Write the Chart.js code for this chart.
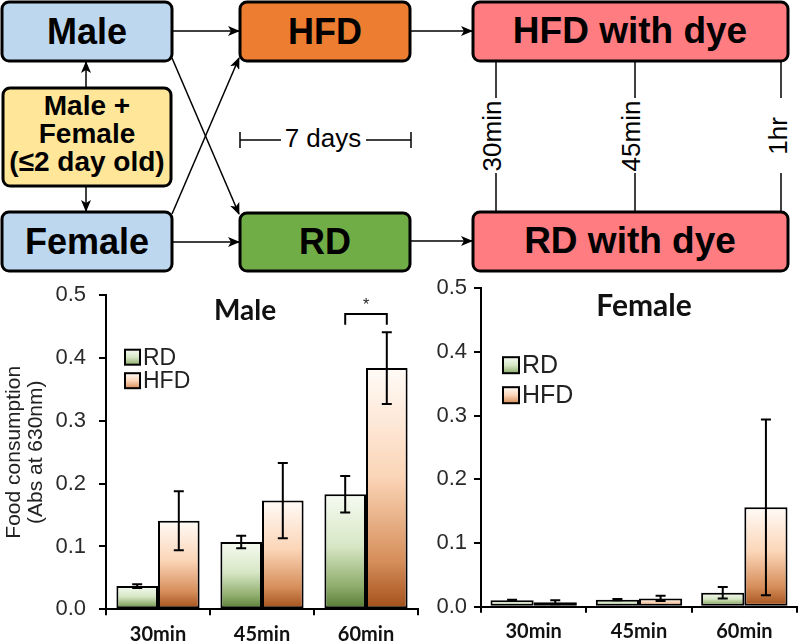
<!DOCTYPE html>
<html>
<head>
<meta charset="utf-8">
<script src="https://cdn.jsdelivr.net/npm/chart.js@4/dist/chart.umd.min.js"></script>
<style>
  body { margin: 0; background: #fff; }
  #wrap { position: relative; width: 800px; height: 644px; overflow: hidden; font-family: "Liberation Sans", Arial, sans-serif; }
  #flow { position: absolute; left: 0; top: 0; }
  /* canvases start a little higher: the tick label padding sits above the plot area */
  #maleBox { position: absolute; left: 0; top: 269px; width: 420px; height: 375px; }
  #femaleBox { position: absolute; left: 420px; top: 268px; width: 380px; height: 376px; }
  .bx { stroke: #000; stroke-width: 3; }
  .big { font-weight: bold; font-size: 36px; text-anchor: middle; }
  .dye { font-weight: bold; font-size: 37px; text-anchor: middle; }
  .mid { font-weight: bold; font-size: 28px; text-anchor: middle; }
  .thin { font-size: 26px; text-anchor: middle; }
  .ln { stroke: #000; stroke-width: 1.5; fill: none; }
</style>
</head>
<body>
<div id="wrap">
<svg id="flow" width="800" height="280" font-family="Liberation Sans, Arial, sans-serif">
  <defs>
    <marker id="ah" markerWidth="12" markerHeight="10" refX="11" refY="5" orient="auto" markerUnits="userSpaceOnUse">
      <path d="M0,0 L12,5 L0,10 L3,5 z" fill="#000"/>
    </marker>
  </defs>
  <!-- arrows -->
  <line class="ln" x1="172" y1="31" x2="239" y2="31" marker-end="url(#ah)"/>
  <line class="ln" x1="172" y1="58" x2="239" y2="214" marker-end="url(#ah)"/>
  <line class="ln" x1="172" y1="214" x2="239" y2="58" marker-end="url(#ah)"/>
  <line class="ln" x1="172" y1="242" x2="239" y2="242" marker-end="url(#ah)"/>
  <line class="ln" x1="86" y1="88" x2="86" y2="62" marker-end="url(#ah)"/>
  <line class="ln" x1="86" y1="186" x2="86" y2="211" marker-end="url(#ah)"/>
  <line class="ln" x1="410" y1="31" x2="472" y2="31" marker-end="url(#ah)"/>
  <line class="ln" x1="410" y1="241" x2="472" y2="241" marker-end="url(#ah)"/>

  <!-- boxes -->
  <rect class="bx" x="2" y="2" width="170" height="59" rx="7" fill="#bdd7ee"/>
  <rect class="bx" x="3" y="88" width="168" height="98" rx="7" fill="#ffe699"/>
  <rect class="bx" x="2" y="212" width="170" height="59" rx="7" fill="#bdd7ee"/>
  <rect class="bx" x="240" y="2" width="170" height="59" rx="7" fill="#ed7d31"/>
  <rect class="bx" x="240" y="213" width="170" height="58" rx="7" fill="#70ad47"/>
  <rect class="bx" x="473" y="2" width="315" height="59" rx="7" fill="#ff7c80"/>
  <rect class="bx" x="473" y="212" width="315" height="59" rx="7" fill="#ff7c80"/>

  <text class="big" x="87" y="44">Male</text>
  <text class="big" x="87" y="254">Female</text>
  <text class="big" x="325" y="44">HFD</text>
  <text class="big" x="325" y="254">RD</text>
  <text class="dye" x="630" y="43">HFD with dye</text>
  <text class="dye" x="630" y="253">RD with dye</text>
  <text class="mid" x="87" y="115">Male +</text>
  <text class="mid" x="87" y="143">Female</text>
  <text class="mid" x="87" y="171">(≤2 day old)</text>

  <!-- 7 days -->
  <line class="ln" x1="240" y1="132" x2="240" y2="148"/>
  <line class="ln" x1="240" y1="140" x2="281" y2="140"/>
  <line class="ln" x1="366" y1="140" x2="411" y2="140"/>
  <line class="ln" x1="411" y1="132" x2="411" y2="148"/>
  <text class="thin" x="323" y="147">7 days</text>

  <!-- sampling times -->
  <line class="ln" x1="496" y1="61" x2="496" y2="98"/>
  <line class="ln" x1="496" y1="173" x2="496" y2="212"/>
  <line class="ln" x1="635" y1="61" x2="635" y2="98"/>
  <line class="ln" x1="635" y1="173" x2="635" y2="212"/>
  <line class="ln" x1="781" y1="61" x2="781" y2="98"/>
  <line class="ln" x1="781" y1="173" x2="781" y2="212"/>
  <text class="thin" transform="translate(496,136) rotate(-90)" x="0" y="5">30min</text>
  <text class="thin" transform="translate(635,136) rotate(-90)" x="0" y="5">45min</text>
  <text class="thin" transform="translate(781,136) rotate(-90)" x="0" y="6">1hr</text>
</svg>
<div id="maleBox"><canvas id="maleChart" width="420" height="375"></canvas></div>
<div id="femaleBox"><canvas id="femaleChart" width="380" height="376"></canvas></div>
</div>

<script>
const timeLabels = ['30min', '45min', '60min'];
const yTicks = [0, 0.1, 0.2, 0.3, 0.4, 0.5];

const maleRD = [0.037, 0.107, 0.183];
const maleRDErr = [0.003, 0.010, 0.029];
const maleHFD = [0.141, 0.173, 0.384];
const maleHFDErr = [0.047, 0.060, 0.057];

const femaleRD = [0.010, 0.011, 0.022];
const femaleRDErr = [0.001, 0.001, 0.009];
const femaleHFD = [0.007, 0.013, 0.156];
const femaleHFDErr = [0.003, 0.004, 0.138];

// significance bracket over 60min (male)
const maleSig = { index: 2, top: 0.470, leg: 0.453, mark: '*' };

const greenStops = ['#f6faf1', '#d7e7c6', '#8fad6c', '#557a33'];
const brownStops = ['#fffbf7', '#fbd5b7', '#d68e5a', '#a24f19'];

function barFill(c, stops) {
  const chart = c.chart;
  const area = chart.chartArea;
  if (!area || c.raw == null) return stops[1];
  const y = chart.scales.y;
  const top = y.getPixelForValue(c.raw);
  const base = y.getPixelForValue(0);
  if (base - top < 2) return stops[1];
  const g = chart.ctx.createLinearGradient(0, top, 0, base);
  g.addColorStop(0, stops[0]);
  g.addColorStop(0.45, stops[1]);
  g.addColorStop(0.8, stops[2]);
  g.addColorStop(1, stops[3]);
  return g;
}

const errorBars = {
  id: 'errorBars',
  afterDatasetsDraw(chart) {
    const { ctx, scales: { y } } = chart;
    ctx.save();
    ctx.strokeStyle = '#000';
    ctx.lineWidth = 2;
    chart.data.datasets.forEach((ds, i) => {
      chart.getDatasetMeta(i).data.forEach((bar, j) => {
        const v = ds.data[j], e = ds.errors[j];
        const t = y.getPixelForValue(v + e), b = y.getPixelForValue(v - e);
        ctx.beginPath();
        ctx.moveTo(bar.x, t); ctx.lineTo(bar.x, b);
        ctx.moveTo(bar.x - 5, t); ctx.lineTo(bar.x + 5, t);
        ctx.moveTo(bar.x - 5, b); ctx.lineTo(bar.x + 5, b);
        ctx.stroke();
      });
    });
    ctx.restore();
  }
};

const extras = {
  id: 'extras',
  afterDraw(chart, args, opts) {
    const { ctx, chartArea, scales: { y } } = chart;
    ctx.save();
    // panel title
    ctx.fillStyle = '#111';
    ctx.font = 'bold ' + opts.titleSize + 'px Lato, sans-serif';
    ctx.textAlign = 'center';
    ctx.textBaseline = 'middle';
    ctx.fillText(opts.title, chartArea.left + opts.titleX, chartArea.top + opts.titleY);
    // legend
    ctx.font = opts.legendSize + 'px "Liberation Sans", Arial, sans-serif';
    ctx.textAlign = 'left';
    chart.data.datasets.forEach((ds, i) => {
      const bx = chartArea.left + opts.legendX;
      const by = chartArea.top + opts.legendY + i * opts.legendGap;
      const s = opts.legendBox;
      const g = ctx.createLinearGradient(0, by - s / 2, 0, by + s / 2);
      g.addColorStop(0, ds.stops[0]);
      g.addColorStop(0.5, ds.stops[1]);
      g.addColorStop(1, ds.stops[2]);
      ctx.fillStyle = g;
      ctx.fillRect(bx, by - s / 2, s, s);
      ctx.strokeStyle = '#000';
      ctx.lineWidth = 2;
      ctx.strokeRect(bx, by - s / 2, s, s);
      ctx.fillStyle = '#222';
      ctx.fillText(ds.label, bx + s + 3, by + 1);
    });
    // significance bracket
    if (opts.sig) {
      const s = opts.sig;
      const a = chart.getDatasetMeta(0).data[s.index].x;
      const b = chart.getDatasetMeta(1).data[s.index].x;
      const t = y.getPixelForValue(s.top), l = y.getPixelForValue(s.leg);
      ctx.strokeStyle = '#000';
      ctx.lineWidth = 2;
      ctx.beginPath();
      ctx.moveTo(a, l); ctx.lineTo(a, t); ctx.lineTo(b, t); ctx.lineTo(b, l);
      ctx.stroke();
      ctx.fillStyle = '#222';
      ctx.font = '16px "Liberation Sans", Arial, sans-serif';
      ctx.textAlign = 'center';
      ctx.fillText(s.mark, (a + b) / 2, t - 8);
    }
    ctx.restore();
  }
};

function makeChart(id, rd, rdErr, hfd, hfdErr, lay, extra, yTitle) {
  return new Chart(document.getElementById(id), {
    type: 'bar',
    data: {
      labels: timeLabels,
      datasets: [{
        label: 'RD',
        data: rd,
        errors: rdErr,
        stops: greenStops,
        backgroundColor: c => barFill(c, greenStops),
        borderColor: '#000',
        borderWidth: 2,
        borderSkipped: false
      }, {
        label: 'HFD',
        data: hfd,
        errors: hfdErr,
        stops: brownStops,
        backgroundColor: c => barFill(c, brownStops),
        borderColor: '#000',
        borderWidth: 2,
        borderSkipped: false
      }]
    },
    options: {
      responsive: false,
      animation: false,
      layout: { padding: lay.padding },
      datasets: { bar: { categoryPercentage: lay.cat, barPercentage: 1 } },
      plugins: { legend: { display: false }, tooltip: { enabled: false }, extras: extra },
      scales: {
        x: {
          afterFit: s => { s.height = lay.xHeight; },
          grid: { drawOnChartArea: false, color: '#000', lineWidth: 2, tickLength: 6 },
          border: { color: '#000', width: 2 },
          ticks: { color: '#111', padding: 7, font: { family: 'Lato', weight: 'bold', size: 20 } }
        },
        y: {
          min: 0,
          max: 0.5,
          afterFit: s => { s.width = lay.yWidth; },
          afterBuildTicks: s => { s.ticks = yTicks.map(v => ({ value: v })); },
          grid: { drawOnChartArea: false, color: '#000', lineWidth: 2, tickLength: 7 },
          border: { color: '#000', width: 2 },
          ticks: { color: '#2a2a2a', padding: lay.tickPad, callback: v => v.toFixed(1), font: { family: 'Liberation Sans', size: 22 } },
          title: yTitle ? {
            display: true,
            text: yTitle,
            color: '#222',
            padding: { top: 3, bottom: 0 },
            font: { family: 'Liberation Sans', size: 21, lineHeight: 1.05 }
          } : { display: false }
        }
      }
    },
    plugins: [errorBars, extras]
  });
}

// plot area: male x 106..418, y 295..609 ; female x 481..797, y 288..607
makeChart('maleChart', maleRD, maleRDErr, maleHFD, maleHFDErr,
  { padding: { top: 0, right: 2, left: 0, bottom: 0 }, xHeight: 34.7, yWidth: 106, cat: 0.8, tickPad: 13 },
  { title: 'Male', titleSize: 28, titleX: 139, titleY: 16, legendX: 19, legendY: 62, legendGap: 23.5, legendBox: 15, legendSize: 23, sig: maleSig },
  ['Food consumption', '(Abs at 630nm)']);

makeChart('femaleChart', femaleRD, femaleRDErr, femaleHFD, femaleHFDErr,
  { padding: { top: 0, right: 3, left: 0, bottom: 0 }, xHeight: 37.3, yWidth: 61, cat: 0.82, tickPad: 7 },
  { title: 'Female', titleSize: 30, titleX: 163, titleY: 18, legendX: 22, legendY: 77, legendGap: 30, legendBox: 16, legendSize: 25 },
  null);
</script>
</body>
</html>
